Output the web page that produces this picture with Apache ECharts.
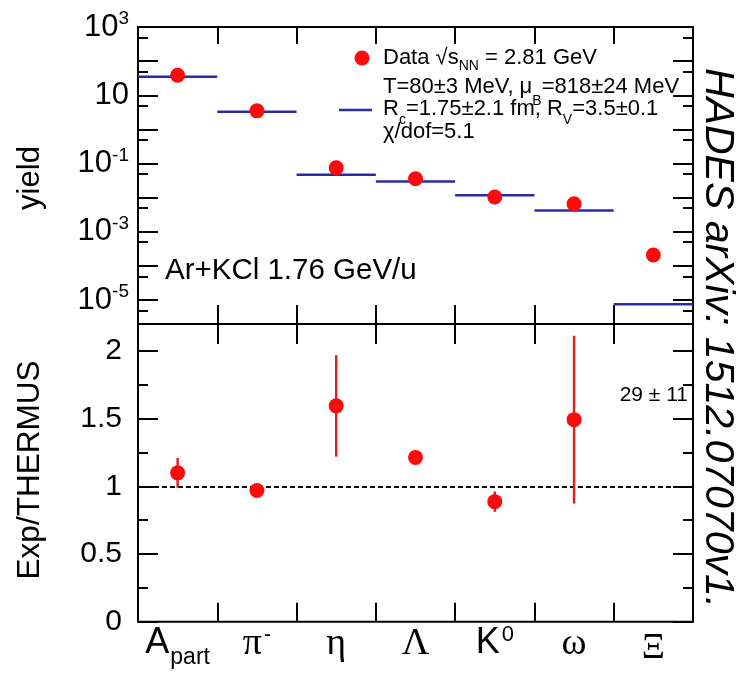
<!DOCTYPE html>
<html><head><meta charset="utf-8">
<script src="https://cdn.jsdelivr.net/npm/echarts@6/dist/echarts.min.js"></script>
<style>html,body{margin:0;padding:0;background:#fff}#c{width:738px;height:676px}</style>
</head><body><div id="c"></div>
<script>
// ---- data ----
const categories = ['A_part', 'pi-', 'eta', 'Lambda', 'K0', 'omega', 'Xi'];
const categoryLabels = ['{s|A}{sub|part}', '{g|π}{sup|-}', '{g|η}', '{g|Λ}', '{s|K}{sup|0}', '{g|ω}', '{x|Ξ}'];
const yieldData = [38.5, 3.5, 0.075, 0.036, 0.0105, 0.0066, 2.1e-4];
const yieldModel = [35, 3.3, 0.047, 0.030, 0.0118, 0.0042, 7.6e-6];
const ratioValues = [1.10, 0.97, 1.595, 1.214, 0.887, 1.493];
const ratioErrors = [0.11, 0.02, 0.375, 0.02, 0.075, 0.62];
const yieldLabelExps = [3, 1, -1, -3, -5];
const yieldMin = 2e-6, yieldMax = 1000;
const ratioMin = 0, ratioMax = 2.2;

// ---- layout ----
const L = 138, R = 45;
const topY = 27, midY = 324, botY = 621.7;
const logMin = Math.log10(yieldMin), logMax = Math.log10(yieldMax);
const ppd = (midY - topY) / (logMax - logMin);
const off5 = Math.log10(2); // 5x10^n ticks sit log10(2) below each decade

const SANS = 'Liberation Sans, Arial, Helvetica, sans-serif';
const SERIF = 'Liberation Serif, Times New Roman, serif';
const RED = '#ff0a0a';
const BLUE = '#2b2ba6';
const tickStyle = {color: '#000', width: 2};

const chart = echarts.init(document.getElementById('c'), null, {renderer: 'canvas'});

const hiddenX = (g) => ({type: 'category', gridIndex: g, data: categories, show: false});
const tok = (family, size, lh, pad, extra) => Object.assign({fontFamily: family, fontSize: size, lineHeight: lh,
  verticalAlign: 'top', padding: [pad, 0, 0, 0], color: '#000', fill: '#000'}, extra || {});

const option = {
  animation: false,
  backgroundColor: '#fff',
  grid: [
    {left: L, right: R, top: topY, height: midY - topY, show: true, borderColor: '#000', borderWidth: 2, backgroundColor: 'transparent'},
    {left: L, right: R, top: topY + (logMax - 3) * ppd, height: 8 * ppd},
    {left: L, right: R, top: topY + (logMax - 3 + off5) * ppd, height: 8 * ppd},
    {left: L, right: R, top: midY, height: botY - midY, show: true, borderColor: '#000', borderWidth: 2, backgroundColor: 'transparent'}
  ],
  xAxis: [
    {type: 'category', gridIndex: 0, data: categories, position: 'bottom', axisLine: {show: false, onZero: false},
     axisTick: {show: true, inside: true, length: 19, interval: 0, lineStyle: tickStyle}, axisLabel: {show: false}},
    {type: 'category', gridIndex: 0, data: categories, position: 'top', axisLine: {show: false, onZero: false},
     axisTick: {show: true, inside: true, length: 17, interval: 0, lineStyle: tickStyle}, axisLabel: {show: false}},
    hiddenX(1), hiddenX(2),
    {type: 'category', gridIndex: 3, data: categories, position: 'bottom', axisLine: {show: false, onZero: false},
     axisTick: {show: true, inside: true, length: 19, interval: 0, lineStyle: tickStyle},
     axisLabel: {show: true, interval: 0, margin: 2, color: '#000',
       formatter: (v, i) => categoryLabels[i],
       rich: {
         s: tok(SANS, 36, 50, 1),
         g: tok(SERIF, 38, 50, 1),
         x: tok(SERIF, 36, 50, 7),
         sub: tok(SANS, 23, 50, 22.5, {padding: [22.5, 0, 0, 1]}),
         sup: tok(SANS, 22, 50, 0, {padding: [0, 0, 0, 2]})
       }}},
    {type: 'category', gridIndex: 3, data: categories, position: 'top', axisLine: {show: false, onZero: false},
     axisTick: {show: true, inside: true, length: 20, interval: 0, lineStyle: tickStyle}, axisLabel: {show: false}}
  ],
  yAxis: [
    {type: 'value', gridIndex: 0, min: logMin, max: logMax, show: false},
    {type: 'value', gridIndex: 1, min: -5, max: 3, interval: 1, position: 'left',
     axisLine: {show: false, onZero: false}, splitLine: {show: false},
     axisTick: {show: true, inside: true, length: 20, lineStyle: tickStyle},
     axisLabel: {show: true, margin: 9, color: '#000',
       formatter: (v) => {
         const e = Math.round(v);
         if (yieldLabelExps.indexOf(e) < 0) return '';
         return e === 1 ? '{b|10}' : '{b|10}{s|' + e + '}';
       },
       rich: {
         b: tok(SANS, 31, 44, 6.5),
         s: tok(SANS, 19, 44, 4.3)
       }}},
    {type: 'value', gridIndex: 1, min: -5, max: 3, interval: 1, position: 'right',
     axisLine: {show: false, onZero: false}, splitLine: {show: false}, axisLabel: {show: false},
     axisTick: {show: true, inside: true, length: 20, lineStyle: tickStyle}},
    {type: 'value', gridIndex: 2, min: -6, max: 2, interval: 1, position: 'left',
     axisLine: {show: false, onZero: false}, splitLine: {show: false}, axisLabel: {show: false},
     axisTick: {show: true, inside: true, length: 10, lineStyle: tickStyle}},
    {type: 'value', gridIndex: 2, min: -6, max: 2, interval: 1, position: 'right',
     axisLine: {show: false, onZero: false}, splitLine: {show: false}, axisLabel: {show: false},
     axisTick: {show: true, inside: true, length: 10, lineStyle: tickStyle}},
    {type: 'value', gridIndex: 3, min: ratioMin, max: ratioMax, interval: 0.5, position: 'left',
     axisLine: {show: false, onZero: false}, splitLine: {show: false},
     axisTick: {show: true, inside: true, length: 20, lineStyle: tickStyle},
     minorTick: {show: true, splitNumber: 2, length: 10, lineStyle: tickStyle},
     axisLabel: {show: true, margin: 16, color: '#000', fontFamily: SANS, fontSize: 30,
       showMaxLabel: false, formatter: (v) => (v > 2.05 ? '' : String(v))}},
    {type: 'value', gridIndex: 3, min: ratioMin, max: ratioMax, interval: 0.5, position: 'right',
     axisLine: {show: false, onZero: false}, splitLine: {show: false}, axisLabel: {show: false},
     axisTick: {show: true, inside: true, length: 20, lineStyle: tickStyle},
     minorTick: {show: true, splitNumber: 2, length: 10, lineStyle: tickStyle}}
  ],
  series: [
    {type: 'custom', xAxisIndex: 0, yAxisIndex: 0, z: 3,
     data: yieldModel.map((v, i) => [i, Math.log10(v)]),
     renderItem: (params, api) => {
       const c = api.coord([api.value(0), api.value(1)]);
       const w = api.size([1, 0])[0];
       return {type: 'line', shape: {x1: c[0] - w / 2, y1: c[1], x2: c[0] + w / 2, y2: c[1]},
               style: {stroke: BLUE, lineWidth: 2.5}};
     }},
    {type: 'scatter', xAxisIndex: 0, yAxisIndex: 0, z: 4, symbol: 'circle', symbolSize: 15,
     itemStyle: {color: RED, opacity: 1},
     data: yieldData.map((v, i) => [i, Math.log10(v)])},
    {type: 'custom', xAxisIndex: 4, yAxisIndex: 5, z: 3,
     data: ratioValues.map((v, i) => [i, v, ratioErrors[i]]),
     renderItem: (params, api) => {
       const x = api.value(0), v = api.value(1), e = api.value(2);
       const a = api.coord([x, v + e]), b = api.coord([x, v - e]);
       return {type: 'line', shape: {x1: a[0], y1: a[1], x2: b[0], y2: b[1]},
               style: {stroke: '#d92424', lineWidth: 2.5}};
     }},
    {type: 'scatter', xAxisIndex: 4, yAxisIndex: 5, z: 4, symbol: 'circle', symbolSize: 15,
     itemStyle: {color: RED, opacity: 1},
     data: ratioValues.map((v, i) => [i, v]),
     markLine: {silent: true, symbol: 'none', label: {show: false}, z: 2,
       lineStyle: {color: '#000', type: [5, 3], width: 2, opacity: 1},
       emphasis: {disabled: true},
       data: [{yAxis: 1}]}}
  ],
  graphic: [
    {type: 'circle', shape: {cx: 362, cy: 58, r: 7.5}, style: {fill: RED}, z: 10},
    {type: 'line', shape: {x1: 339, y1: 110, x2: 372, y2: 110}, style: {stroke: BLUE, lineWidth: 2.5}, z: 10},
    {type: 'text', x: 383, y: 58, z: 10, style: {
      text: '{m|Data √s}{b|NN}{m| = 2.81 GeV}', textAlign: 'left', textVerticalAlign: 'middle', align: 'left', verticalAlign: 'middle',
      rich: {m: tok(SANS, 22, 44, 11), b: tok(SANS, 14, 44, 22.8)}}},
    {type: 'text', x: 383, y: 86.5, z: 10, style: {
      text: '{m|T=80±3 MeV, μ}{b|B}{m|=818±24 MeV}', textAlign: 'left', textVerticalAlign: 'middle', align: 'left', verticalAlign: 'middle',
      rich: {m: tok(SANS, 22, 44, 11), b: tok(SANS, 14, 44, 29.5)}}},
    {type: 'text', x: 383, y: 108.5, z: 10, style: {
      text: '{m|R}{b|c}{m|=1.75±2.1 fm, R}{b|V}{m|=3.5±0.1}', textAlign: 'left', textVerticalAlign: 'middle', align: 'left', verticalAlign: 'middle',
      rich: {m: tok(SANS, 22, 44, 11), b: tok(SANS, 14, 44, 26.8)}}},
    {type: 'text', x: 383, y: 132, z: 10, style: {
      text: 'χ/dof=5.1', font: '22px ' + SANS, fill: '#000', textAlign: 'left', textVerticalAlign: 'middle', align: 'left', verticalAlign: 'middle'}},
    {type: 'text', x: 165, y: 271, z: 10, style: {
      text: 'Ar+KCl 1.76 GeV/u', font: '29.5px ' + SANS, fill: '#000', textAlign: 'left', textVerticalAlign: 'middle', align: 'left', verticalAlign: 'middle'}},
    {type: 'text', x: 688, y: 395, z: 10, style: {
      text: '29 ± 11', font: '21px ' + SANS, fill: '#000', textAlign: 'right', textVerticalAlign: 'middle', align: 'right', verticalAlign: 'middle'}},
    {type: 'text', x: 30, y: 178, rotation: Math.PI / 2, z: 10, style: {
      text: 'yield', font: '31px ' + SANS, fill: '#000', textAlign: 'center', textVerticalAlign: 'middle', align: 'center', verticalAlign: 'middle'}},
    {type: 'text', x: 30, y: 470, rotation: Math.PI / 2, z: 10, style: {
      text: 'Exp/THERMUS', font: '31.5px ' + SANS, fill: '#000', textAlign: 'center', textVerticalAlign: 'middle', align: 'center', verticalAlign: 'middle'}},
    {type: 'text', x: 717, y: 68, rotation: -Math.PI / 2, z: 10, style: {
      text: 'HADES arXiv: 1512.07070v1.', font: 'italic 41px ' + SANS, fill: '#000', textAlign: 'left', textVerticalAlign: 'middle', align: 'left', verticalAlign: 'middle'}}
  ]
};
chart.setOption(option);
</script>
</body></html>
